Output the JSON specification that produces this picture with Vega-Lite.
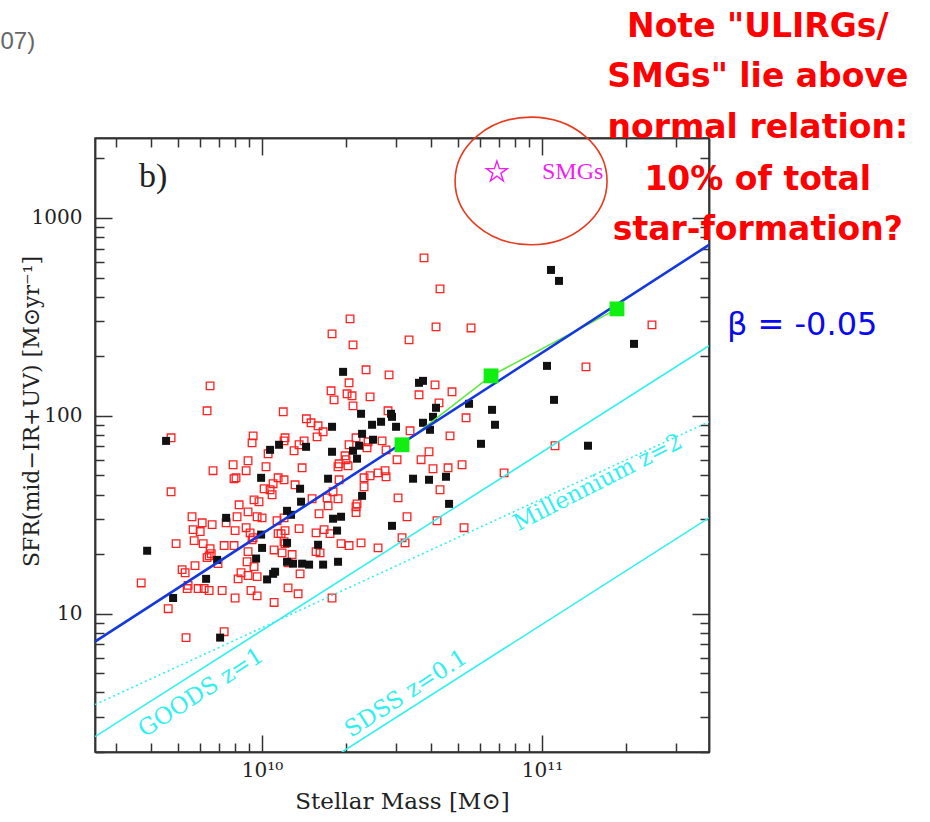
{
  "$schema": "https://vega.github.io/schema/vega-lite/v6.json",
  "width": 614,
  "height": 614,
  "autosize": "none",
  "padding": {"left": 95, "top": 138, "right": 221, "bottom": 70},
  "background": "white",
  "config": {
    "view": {"stroke": "#333", "strokeWidth": 1.5},
    "axis": {
      "grid": false,
      "domainColor": "#333",
      "domainWidth": 1.5,
      "tickColor": "#333",
      "tickWidth": 1.5,
      "labelFont": "DejaVu Serif",
      "labelFontSize": 20,
      "labelColor": "#222",
      "labelFlush": false,
      "titleFont": "DejaVu Serif",
      "titleFontSize": 22,
      "titleFontWeight": "normal",
      "titleColor": "#222"
    }
  },
  "datasets": {
    "red": [
      {"mass": 6.52e9, "sfr": 141.7}, {"mass": 6.36e9, "sfr": 106}, {"mass": 1.19e10, "sfr": 104.8}, {"mass": 1.44e10, "sfr": 96.6},
      {"mass": 4.73e9, "sfr": 77.4}, {"mass": 9.29e9, "sfr": 79.2}, {"mass": 9.21e9, "sfr": 73.0}, {"mass": 1.208e10, "sfr": 77.4},
      {"mass": 1.198e10, "sfr": 74.7}, {"mass": 1.051e10, "sfr": 64.3}, {"mass": 1.301e10, "sfr": 66.6}, {"mass": 1.356e10, "sfr": 71.4},
      {"mass": 1.413e10, "sfr": 74.7}, {"mass": 8.91e9, "sfr": 59.3}, {"mass": 7.88e9, "sfr": 56.6}, {"mass": 6.68e9, "sfr": 52.8},
      {"mass": 8.77e9, "sfr": 52.8}, {"mass": 1.033e10, "sfr": 55.3}, {"mass": 1.39e10, "sfr": 54.6}, {"mass": 7.94e9, "sfr": 48.1},
      {"mass": 8.07e9, "sfr": 48.6}, {"mass": 1.141e10, "sfr": 48.6}, {"mass": 1.198e10, "sfr": 47.5}, {"mass": 1.095e10, "sfr": 45.4},
      {"mass": 1.312e10, "sfr": 44.8}, {"mass": 1.017e10, "sfr": 42.8}, {"mass": 1.068e10, "sfr": 42.3}, {"mass": 1.086e10, "sfr": 39.9},
      {"mass": 4.73e9, "sfr": 41.3}, {"mass": 9.36e9, "sfr": 37.6}, {"mass": 9.75e9, "sfr": 36.8}, {"mass": 8.28e9, "sfr": 35.5},
      {"mass": 2.352e10, "sfr": 170.8}, {"mass": 2.842e10, "sfr": 161.1}, {"mass": 2.045e10, "sfr": 146.8}, {"mass": 1.764e10, "sfr": 133.8},
      {"mass": 2.012e10, "sfr": 129.2}, {"mass": 2.096e10, "sfr": 126.2}, {"mass": 1.808e10, "sfr": 120.4}, {"mass": 2.431e10, "sfr": 124.7},
      {"mass": 2.113e10, "sfr": 112.3}, {"mass": 4.148e10, "sfr": 143.4}, {"mass": 3.636e10, "sfr": 127.7}, {"mass": 4.77e10, "sfr": 132.2},
      {"mass": 4.286e10, "sfr": 116.3}, {"mass": 5.354e10, "sfr": 97.7}, {"mass": 2.818e10, "sfr": 106}, {"mass": 1.496e10, "sfr": 92.2},
      {"mass": 1.585e10, "sfr": 89.0}, {"mass": 1.652e10, "sfr": 83.0}, {"mass": 1.572e10, "sfr": 78.3}, {"mass": 3.378e10, "sfr": 84.0},
      {"mass": 4.693e10, "sfr": 79.2}, {"mass": 2.045e10, "sfr": 71.4}, {"mass": 2.166e10, "sfr": 77.4}, {"mass": 2.391e10, "sfr": 73.9},
      {"mass": 2.683e10, "sfr": 74.7}, {"mass": 2.773e10, "sfr": 67.3}, {"mass": 2.371e10, "sfr": 68.9}, {"mass": 1.979e10, "sfr": 62.8},
      {"mass": 1.995e10, "sfr": 60.0}, {"mass": 1.884e10, "sfr": 57.2}, {"mass": 1.868e10, "sfr": 55.3}, {"mass": 2.028e10, "sfr": 55.9},
      {"mass": 3.035e10, "sfr": 60.0}, {"mass": 3.698e10, "sfr": 60.0}, {"mass": 3.948e10, "sfr": 65.8}, {"mass": 4.08e10, "sfr": 54.0},
      {"mass": 4.617e10, "sfr": 54.6}, {"mass": 5.18e10, "sfr": 56.6}, {"mass": 2.596e10, "sfr": 51.5}, {"mass": 2.75e10, "sfr": 52.8},
      {"mass": 2.773e10, "sfr": 49.2}, {"mass": 2.431e10, "sfr": 49.8}, {"mass": 2.314e10, "sfr": 48.6}, {"mass": 1.884e10, "sfr": 47.5},
      {"mass": 2.314e10, "sfr": 43.8}, {"mass": 1.793e10, "sfr": 41.3}, {"mass": 1.707e10, "sfr": 38.5}, {"mass": 1.868e10, "sfr": 38.1},
      {"mass": 1.509e10, "sfr": 38.1}, {"mass": 4.322e10, "sfr": 42.3}, {"mass": 3.06e10, "sfr": 38.5},
      {"mass": 5.62e9, "sfr": 30.9}, {"mass": 6.11e9, "sfr": 28.8}, {"mass": 6.63e9, "sfr": 28.2}, {"mass": 5.67e9, "sfr": 26.6},
      {"mass": 6.01e9, "sfr": 26.0}, {"mass": 7.44e9, "sfr": 28.8}, {"mass": 8.14e9, "sfr": 30.9}, {"mass": 8.91e9, "sfr": 32.7},
      {"mass": 9.6e9, "sfr": 30.9}, {"mass": 1.0e10, "sfr": 30.5}, {"mass": 8.01e9, "sfr": 26.3}, {"mass": 8.77e9, "sfr": 27.2},
      {"mass": 9.06e9, "sfr": 25.6}, {"mass": 9.29e9, "sfr": 24.2}, {"mass": 1.131e10, "sfr": 29.5}, {"mass": 1.198e10, "sfr": 30.5},
      {"mass": 1.208e10, "sfr": 26.3}, {"mass": 1.141e10, "sfr": 25.4}, {"mass": 1.169e10, "sfr": 25.4}, {"mass": 1.356e10, "sfr": 26.9},
      {"mass": 4.93e9, "sfr": 22.6}, {"mass": 5.72e9, "sfr": 23.4}, {"mass": 6.16e9, "sfr": 22.6}, {"mass": 6.52e9, "sfr": 21.3},
      {"mass": 7.32e9, "sfr": 22.1}, {"mass": 7.94e9, "sfr": 22.1}, {"mass": 9.21e9, "sfr": 23.6}, {"mass": 8.91e9, "sfr": 20.6},
      {"mass": 1.104e10, "sfr": 21.0}, {"mass": 1.198e10, "sfr": 23.1}, {"mass": 1.208e10, "sfr": 22.6}, {"mass": 1.179e10, "sfr": 20.3},
      {"mass": 1.28e10, "sfr": 19.9}, {"mass": 6.36e9, "sfr": 19.2}, {"mass": 6.47e9, "sfr": 19.6}, {"mass": 6.58e9, "sfr": 20.1},
      {"mass": 6.96e9, "sfr": 17.9}, {"mass": 8.84e9, "sfr": 18.3}, {"mass": 9.36e9, "sfr": 17.3}, {"mass": 5.18e9, "sfr": 16.7},
      {"mass": 5.31e9, "sfr": 16.1}, {"mass": 5.76e9, "sfr": 17.5}, {"mass": 8.41e9, "sfr": 16.1}, {"mass": 8.91e9, "sfr": 15.6},
      {"mass": 9.6e9, "sfr": 15.4}, {"mass": 8.21e9, "sfr": 15.0}, {"mass": 1.367e10, "sfr": 15.9}, {"mass": 1.238e10, "sfr": 18.1},
      {"mass": 3.7e9, "sfr": 14.3}, {"mass": 5.44e9, "sfr": 13.9}, {"mass": 5.4e9, "sfr": 13.4}, {"mass": 5.91e9, "sfr": 13.4},
      {"mass": 6.21e9, "sfr": 13.4}, {"mass": 6.47e9, "sfr": 13.1}, {"mass": 7.2e9, "sfr": 13.1}, {"mass": 9.13e9, "sfr": 13.1},
      {"mass": 9.6e9, "sfr": 12.3}, {"mass": 8.01e9, "sfr": 12.0}, {"mass": 1.238e10, "sfr": 13.5}, {"mass": 1.345e10, "sfr": 12.6},
      {"mass": 1.104e10, "sfr": 11.4}, {"mass": 4.62e9, "sfr": 10.6}, {"mass": 5.35e9, "sfr": 7.57}, {"mass": 7.32e9, "sfr": 8.11},
      {"mass": 1.721e10, "sfr": 35.1}, {"mass": 2.184e10, "sfr": 35.9}, {"mass": 2.166e10, "sfr": 34.7}, {"mass": 2.166e10, "sfr": 32.4},
      {"mass": 1.598e10, "sfr": 32.0}, {"mass": 1.559e10, "sfr": 25.6}, {"mass": 1.665e10, "sfr": 26.6}, {"mass": 1.749e10, "sfr": 25.4},
      {"mass": 1.915e10, "sfr": 22.6}, {"mass": 2.045e10, "sfr": 22.1}, {"mass": 2.257e10, "sfr": 22.8}, {"mass": 2.596e10, "sfr": 21.5},
      {"mass": 3.162e10, "sfr": 24.2}, {"mass": 3.241e10, "sfr": 22.8}, {"mass": 3.295e10, "sfr": 30.9}, {"mass": 4.217e10, "sfr": 29.5},
      {"mass": 5.266e10, "sfr": 27.2}, {"mass": 1.559e10, "sfr": 20.6}, {"mass": 1.611e10, "sfr": 20.3}, {"mass": 1.778e10, "sfr": 12.0},
      {"mass": 2.062e10, "sfr": 309}, {"mass": 1.778e10, "sfr": 259.5}, {"mass": 2.113e10, "sfr": 228.3}, {"mass": 3.35e10, "sfr": 242},
      {"mass": 3.789e10, "sfr": 628}, {"mass": 4.322e10, "sfr": 438}, {"mass": 4.182e10, "sfr": 281.5}, {"mass": 5.578e10, "sfr": 278},
      {"mass": 2.471e11, "sfr": 288}, {"mass": 1.436e11, "sfr": 176.8}, {"mass": 1.113e11, "sfr": 70.6}, {"mass": 7.32e10, "sfr": 51.5}
    ],
    "black": [
      {"mass": 4.54e9, "sfr": 74.7}, {"mass": 1.068e10, "sfr": 67.3}, {"mass": 1.15e10, "sfr": 71.4}, {"mass": 9.92e9, "sfr": 48.6},
      {"mass": 1.367e10, "sfr": 42.8}, {"mass": 1.378e10, "sfr": 36.8}, {"mass": 1.436e10, "sfr": 69.7}, {"mass": 1.947e10, "sfr": 166.8},
      {"mass": 3.636e10, "sfr": 146.8}, {"mass": 3.758e10, "sfr": 150.2}, {"mass": 2.257e10, "sfr": 102.4}, {"mass": 2.888e10, "sfr": 102.4},
      {"mass": 2.912e10, "sfr": 98.8}, {"mass": 2.661e10, "sfr": 93.3}, {"mass": 2.471e10, "sfr": 90.1}, {"mass": 3.01e10, "sfr": 88.0},
      {"mass": 1.778e10, "sfr": 88.0}, {"mass": 2.276e10, "sfr": 81.1}, {"mass": 4.182e10, "sfr": 109.8}, {"mass": 4.08e10, "sfr": 98.8},
      {"mass": 3.758e10, "sfr": 92.2}, {"mass": 3.981e10, "sfr": 85.0}, {"mass": 2.491e10, "sfr": 75.7}, {"mass": 2.221e10, "sfr": 70.6},
      {"mass": 2.113e10, "sfr": 66.6}, {"mass": 2.184e10, "sfr": 60.7}, {"mass": 1.778e10, "sfr": 65.8}, {"mass": 1.721e10, "sfr": 48.1},
      {"mass": 3.462e10, "sfr": 48.1}, {"mass": 3.948e10, "sfr": 47.5}, {"mass": 4.54e10, "sfr": 49.2}, {"mass": 2.276e10, "sfr": 39.4},
      {"mass": 4.655e10, "sfr": 35.9}, {"mass": 7.44e9, "sfr": 30.5}, {"mass": 1.228e10, "sfr": 33.1}, {"mass": 1.269e10, "sfr": 31.6},
      {"mass": 9.92e9, "sfr": 25.1}, {"mass": 1.0e10, "sfr": 21.5}, {"mass": 1.228e10, "sfr": 22.8}, {"mass": 3.885e9, "sfr": 20.8},
      {"mass": 6.91e9, "sfr": 18.7}, {"mass": 9.52e9, "sfr": 19.0}, {"mass": 1.228e10, "sfr": 18.3}, {"mass": 1.29e10, "sfr": 17.9},
      {"mass": 1.39e10, "sfr": 17.9}, {"mass": 1.113e10, "sfr": 16.3}, {"mass": 1.095e10, "sfr": 15.9}, {"mass": 1.042e10, "sfr": 14.9},
      {"mass": 6.31e9, "sfr": 15.0}, {"mass": 4.81e9, "sfr": 12.0}, {"mass": 7.08e9, "sfr": 7.57}, {"mass": 1.915e10, "sfr": 30.9},
      {"mass": 1.793e10, "sfr": 30.2}, {"mass": 2.912e10, "sfr": 27.8}, {"mass": 1.853e10, "sfr": 26.3}, {"mass": 1.585e10, "sfr": 22.3},
      {"mass": 1.868e10, "sfr": 18.3}, {"mass": 1.652e10, "sfr": 17.7}, {"mass": 1.472e10, "sfr": 17.7}, {"mass": 1.077e11, "sfr": 546},
      {"mass": 1.15e11, "sfr": 480.6}, {"mass": 2.131e11, "sfr": 231}, {"mass": 1.042e11, "sfr": 178.8}, {"mass": 1.104e11, "sfr": 120.4},
      {"mass": 6.63e10, "sfr": 107.2}, {"mass": 6.795e10, "sfr": 90.1}, {"mass": 5.487e10, "sfr": 115.0}, {"mass": 6.055e10, "sfr": 72.2},
      {"mass": 1.46e11, "sfr": 70.6}
    ],
    "green": [
      {"mass": 3.162e10, "sfr": 71.4}, {"mass": 6.575e10, "sfr": 159.2}, {"mass": 1.853e11, "sfr": 347}
    ],
    "lines": [
      {"series": "fit", "mass": 2.53e9, "sfr": 7.22}, {"series": "fit", "mass": 3.95e11, "sfr": 731},
      {"series": "goods", "mass": 2.53e9, "sfr": 2.39}, {"series": "goods", "mass": 3.95e11, "sfr": 226},
      {"series": "millennium", "mass": 2.53e9, "sfr": 3.47}, {"series": "millennium", "mass": 3.95e11, "sfr": 93.3},
      {"series": "sdss", "mass": 1.93e10, "sfr": 2.0}, {"series": "sdss", "mass": 3.95e11, "sfr": 30.5}
    ]
  },
  "resolve": {"axis": {"x": "independent", "y": "independent"}},
  "layer": [
    {
      "data": {"name": "red"},
      "mark": {"type": "point", "shape": "square", "filled": false, "stroke": "#ff2020", "strokeWidth": 1.3, "size": 58, "opacity": 1},
      "encoding": {
        "x": {"field": "mass", "type": "quantitative", "scale": {"type": "log", "domain": [2.53e9, 3.95e11], "nice": false},
          "axis": {"orient": "bottom", "values": [1e10, 1e11], "tickSize": -17, "labelPadding": 25, "labelBaseline": "top",
            "labelExpr": "datum.value < 5e10 ? '10¹⁰' : '10¹¹'",
            "title": "Stellar Mass [M⊙]", "titleFontSize": 23, "titleY": 49, "titleBaseline": "middle"}},
        "y": {"field": "sfr", "type": "quantitative", "scale": {"type": "log", "domain": [2.0, 2535], "nice": false},
          "axis": {"orient": "left", "values": [10, 100, 1000], "tickSize": -17, "labelPadding": 30, "format": "d",
            "title": "SFR(mid−IR+UV) [M⊙yr⁻¹]", "titleX": -64, "titleY": 273, "titleAngle": -90, "titleAlign": "center", "titleBaseline": "middle"}}
      }
    },
    {
      "data": {"name": "black"},
      "mark": {"type": "square", "color": "#111111", "size": 64, "opacity": 1},
      "encoding": {
        "x": {"field": "mass", "type": "quantitative", "scale": {"type": "log", "domain": [2.53e9, 3.95e11], "nice": false},
          "axis": {"orient": "bottom", "values": [3e9, 4e9, 5e9, 6e9, 7e9, 8e9, 9e9, 2e10, 3e10, 4e10, 5e10, 6e10, 7e10, 8e10, 9e10, 2e11, 3e11], "tickSize": -9, "labels": false, "title": null}},
        "y": {"field": "sfr", "type": "quantitative", "scale": {"type": "log", "domain": [2.0, 2535], "nice": false},
          "axis": {"orient": "left", "values": [2, 3, 4, 5, 6, 7, 8, 9, 20, 30, 40, 50, 60, 70, 80, 90, 200, 300, 400, 500, 600, 700, 800, 900, 2000], "tickSize": -9, "labels": false, "title": null}}
      }
    },
    {
      "data": {"name": "lines"},
      "transform": [{"filter": "datum.series == 'goods'"}],
      "mark": {"type": "line", "color": "#33f0f0", "strokeWidth": 1.6, "clip": true},
      "encoding": {
        "x": {"field": "mass", "type": "quantitative", "scale": {"type": "log", "domain": [2.53e9, 3.95e11], "nice": false},
          "axis": {"orient": "top", "values": [1e10, 1e11], "tickSize": -17, "labels": false, "title": null}},
        "y": {"field": "sfr", "type": "quantitative", "scale": {"type": "log", "domain": [2.0, 2535], "nice": false},
          "axis": {"orient": "right", "values": [10, 100, 1000], "tickSize": -17, "labels": false, "title": null}}
      }
    },
    {
      "data": {"name": "lines"},
      "transform": [{"filter": "datum.series == 'millennium'"}],
      "mark": {"type": "line", "color": "#33f0f0", "strokeWidth": 1.6, "strokeDash": [2, 3], "clip": true},
      "encoding": {
        "x": {"field": "mass", "type": "quantitative", "scale": {"type": "log", "domain": [2.53e9, 3.95e11], "nice": false}, "axis": null},
        "y": {"field": "sfr", "type": "quantitative", "scale": {"type": "log", "domain": [2.0, 2535], "nice": false}, "axis": null}
      }
    },
    {
      "data": {"name": "lines"},
      "transform": [{"filter": "datum.series == 'sdss'"}],
      "mark": {"type": "line", "color": "#33f0f0", "strokeWidth": 1.6, "clip": true},
      "encoding": {
        "x": {"field": "mass", "type": "quantitative", "scale": {"type": "log", "domain": [2.53e9, 3.95e11], "nice": false}, "axis": null},
        "y": {"field": "sfr", "type": "quantitative", "scale": {"type": "log", "domain": [2.0, 2535], "nice": false}, "axis": null}
      }
    },
    {
      "data": {"name": "green"},
      "mark": {"type": "line", "color": "#5ee840", "strokeWidth": 1.6},
      "encoding": {
        "x": {"field": "mass", "type": "quantitative", "scale": {"type": "log", "domain": [2.53e9, 3.95e11], "nice": false},
          "axis": {"orient": "top", "values": [3e9, 4e9, 5e9, 6e9, 7e9, 8e9, 9e9, 2e10, 3e10, 4e10, 5e10, 6e10, 7e10, 8e10, 9e10, 2e11, 3e11], "tickSize": -9, "labels": false, "title": null}},
        "y": {"field": "sfr", "type": "quantitative", "scale": {"type": "log", "domain": [2.0, 2535], "nice": false},
          "axis": {"orient": "right", "values": [2, 3, 4, 5, 6, 7, 8, 9, 20, 30, 40, 50, 60, 70, 80, 90, 200, 300, 400, 500, 600, 700, 800, 900, 2000], "tickSize": -9, "labels": false, "title": null}}
      }
    },
    {
      "data": {"name": "lines"},
      "transform": [{"filter": "datum.series == 'fit'"}],
      "mark": {"type": "line", "color": "#1438e0", "strokeWidth": 2.6, "clip": false},
      "encoding": {
        "x": {"field": "mass", "type": "quantitative", "scale": {"type": "log", "domain": [2.53e9, 3.95e11], "nice": false}, "axis": null},
        "y": {"field": "sfr", "type": "quantitative", "scale": {"type": "log", "domain": [2.0, 2535], "nice": false}, "axis": null}
      }
    },
    {
      "data": {"name": "green"},
      "mark": {"type": "square", "color": "#11ee11", "size": 220, "opacity": 1},
      "encoding": {
        "x": {"field": "mass", "type": "quantitative", "scale": {"type": "log", "domain": [2.53e9, 3.95e11], "nice": false}, "axis": null},
        "y": {"field": "sfr", "type": "quantitative", "scale": {"type": "log", "domain": [2.0, 2535], "nice": false}, "axis": null}
      }
    },
    {
      "data": {"values": [
        {"label": "GOODS z=1", "mass": 6.05e9, "sfr": 3.99},
        {"label": "SDSS z=0.1", "mass": 3.27e10, "sfr": 3.94}
      ]},
      "mark": {"type": "text", "font": "DejaVu Serif", "fontSize": 23, "color": "#33f0f0", "angle": -33, "align": "center", "baseline": "middle"},
      "encoding": {
        "x": {"field": "mass", "type": "quantitative", "scale": {"type": "log", "domain": [2.53e9, 3.95e11], "nice": false}, "axis": null},
        "y": {"field": "sfr", "type": "quantitative", "scale": {"type": "log", "domain": [2.0, 2535], "nice": false}, "axis": null},
        "text": {"field": "label"}
      }
    },
    {
      "data": {"values": [{"label": "Millennium z=2", "mass": 1.585e11, "sfr": 45.9}]},
      "mark": {"type": "text", "font": "DejaVu Serif", "fontSize": 23, "color": "#33f0f0", "angle": -27, "align": "center", "baseline": "middle"},
      "encoding": {
        "x": {"field": "mass", "type": "quantitative", "scale": {"type": "log", "domain": [2.53e9, 3.95e11], "nice": false}, "axis": null},
        "y": {"field": "sfr", "type": "quantitative", "scale": {"type": "log", "domain": [2.0, 2535], "nice": false}, "axis": null},
        "text": {"field": "label"}
      }
    },
    {
      "data": {"values": [{"label": "b)", "mass": 4.08e9, "sfr": 1611}]},
      "mark": {"type": "text", "font": "Liberation Serif", "fontSize": 34, "color": "#222", "align": "center", "baseline": "middle"},
      "encoding": {
        "x": {"field": "mass", "type": "quantitative", "scale": {"type": "log", "domain": [2.53e9, 3.95e11], "nice": false}, "axis": null},
        "y": {"field": "sfr", "type": "quantitative", "scale": {"type": "log", "domain": [2.0, 2535], "nice": false}, "axis": null},
        "text": {"field": "label"}
      }
    },
    {
      "data": {"values": [{"label": "SMGs", "mass": 1.0e11, "sfr": 1706}]},
      "mark": {"type": "text", "font": "Liberation Serif", "fontSize": 24, "color": "#f020f0", "align": "left", "baseline": "middle"},
      "encoding": {
        "x": {"field": "mass", "type": "quantitative", "scale": {"type": "log", "domain": [2.53e9, 3.95e11], "nice": false}, "axis": null},
        "y": {"field": "sfr", "type": "quantitative", "scale": {"type": "log", "domain": [2.0, 2535], "nice": false}, "axis": null},
        "text": {"field": "label"}
      }
    },
    {
      "data": {"values": [{"mass": 6.9e10, "sfr": 1706}]},
      "mark": {"type": "point", "shape": "M0,-1L0.2245,-0.309L0.951,-0.309L0.363,0.118L0.588,0.809L0,0.382L-0.588,0.809L-0.363,0.118L-0.951,-0.309L-0.2245,-0.309Z", "filled": false, "stroke": "#f020f0", "strokeWidth": 1.4, "size": 484, "opacity": 1},
      "encoding": {
        "x": {"field": "mass", "type": "quantitative", "scale": {"type": "log", "domain": [2.53e9, 3.95e11], "nice": false}, "axis": null},
        "y": {"field": "sfr", "type": "quantitative", "scale": {"type": "log", "domain": [2.0, 2535], "nice": false}, "axis": null}
      }
    },
    {
      "data": {"values": [{"mass": 9.14e10, "sfr": 1538}]},
      "mark": {"type": "point", "shape": "M-1,0A1,0.84,0,1,1,1,0A1,0.84,0,1,1,-1,0Z", "filled": false, "stroke": "#e83a1e", "strokeWidth": 1.6, "size": 23104, "opacity": 1},
      "encoding": {
        "x": {"field": "mass", "type": "quantitative", "scale": {"type": "log", "domain": [2.53e9, 3.95e11], "nice": false}, "axis": null},
        "y": {"field": "sfr", "type": "quantitative", "scale": {"type": "log", "domain": [2.0, 2535], "nice": false}, "axis": null}
      }
    },
    {
      "data": {"values": [
        {"label": "Note \"ULIRGs/", "mass": 5.9e11, "sfr": 9226},
        {"label": "SMGs\" lie above", "mass": 5.9e11, "sfr": 5152},
        {"label": "normal relation:", "mass": 5.9e11, "sfr": 2848},
        {"label": "10% of total", "mass": 5.9e11, "sfr": 1556},
        {"label": "star-formation?", "mass": 5.9e11, "sfr": 869}
      ]},
      "mark": {"type": "text", "font": "DejaVu Sans", "fontWeight": "bold", "fontSize": 33, "color": "#ff0000", "align": "center", "baseline": "middle"},
      "encoding": {
        "x": {"field": "mass", "type": "quantitative", "scale": {"type": "log", "domain": [2.53e9, 3.95e11], "nice": false}, "axis": null},
        "y": {"field": "sfr", "type": "quantitative", "scale": {"type": "log", "domain": [2.0, 2535], "nice": false}, "axis": null},
        "text": {"field": "label"}
      }
    },
    {
      "data": {"values": [{"label": "β = -0.05", "mass": 4.58e11, "sfr": 288}]},
      "mark": {"type": "text", "font": "DejaVu Sans", "fontSize": 32, "color": "#0a0aee", "align": "left", "baseline": "middle"},
      "encoding": {
        "x": {"field": "mass", "type": "quantitative", "scale": {"type": "log", "domain": [2.53e9, 3.95e11], "nice": false}, "axis": null},
        "y": {"field": "sfr", "type": "quantitative", "scale": {"type": "log", "domain": [2.0, 2535], "nice": false}, "axis": null},
        "text": {"field": "label"}
      }
    },
    {
      "data": {"values": [{"label": "07)", "mass": 1.547e9, "sfr": 7745}]},
      "mark": {"type": "text", "font": "Liberation Sans", "fontSize": 24, "color": "#666666", "align": "right", "baseline": "middle"},
      "encoding": {
        "x": {"field": "mass", "type": "quantitative", "scale": {"type": "log", "domain": [2.53e9, 3.95e11], "nice": false}, "axis": null},
        "y": {"field": "sfr", "type": "quantitative", "scale": {"type": "log", "domain": [2.0, 2535], "nice": false}, "axis": null},
        "text": {"field": "label"}
      }
    }
  ]
}
